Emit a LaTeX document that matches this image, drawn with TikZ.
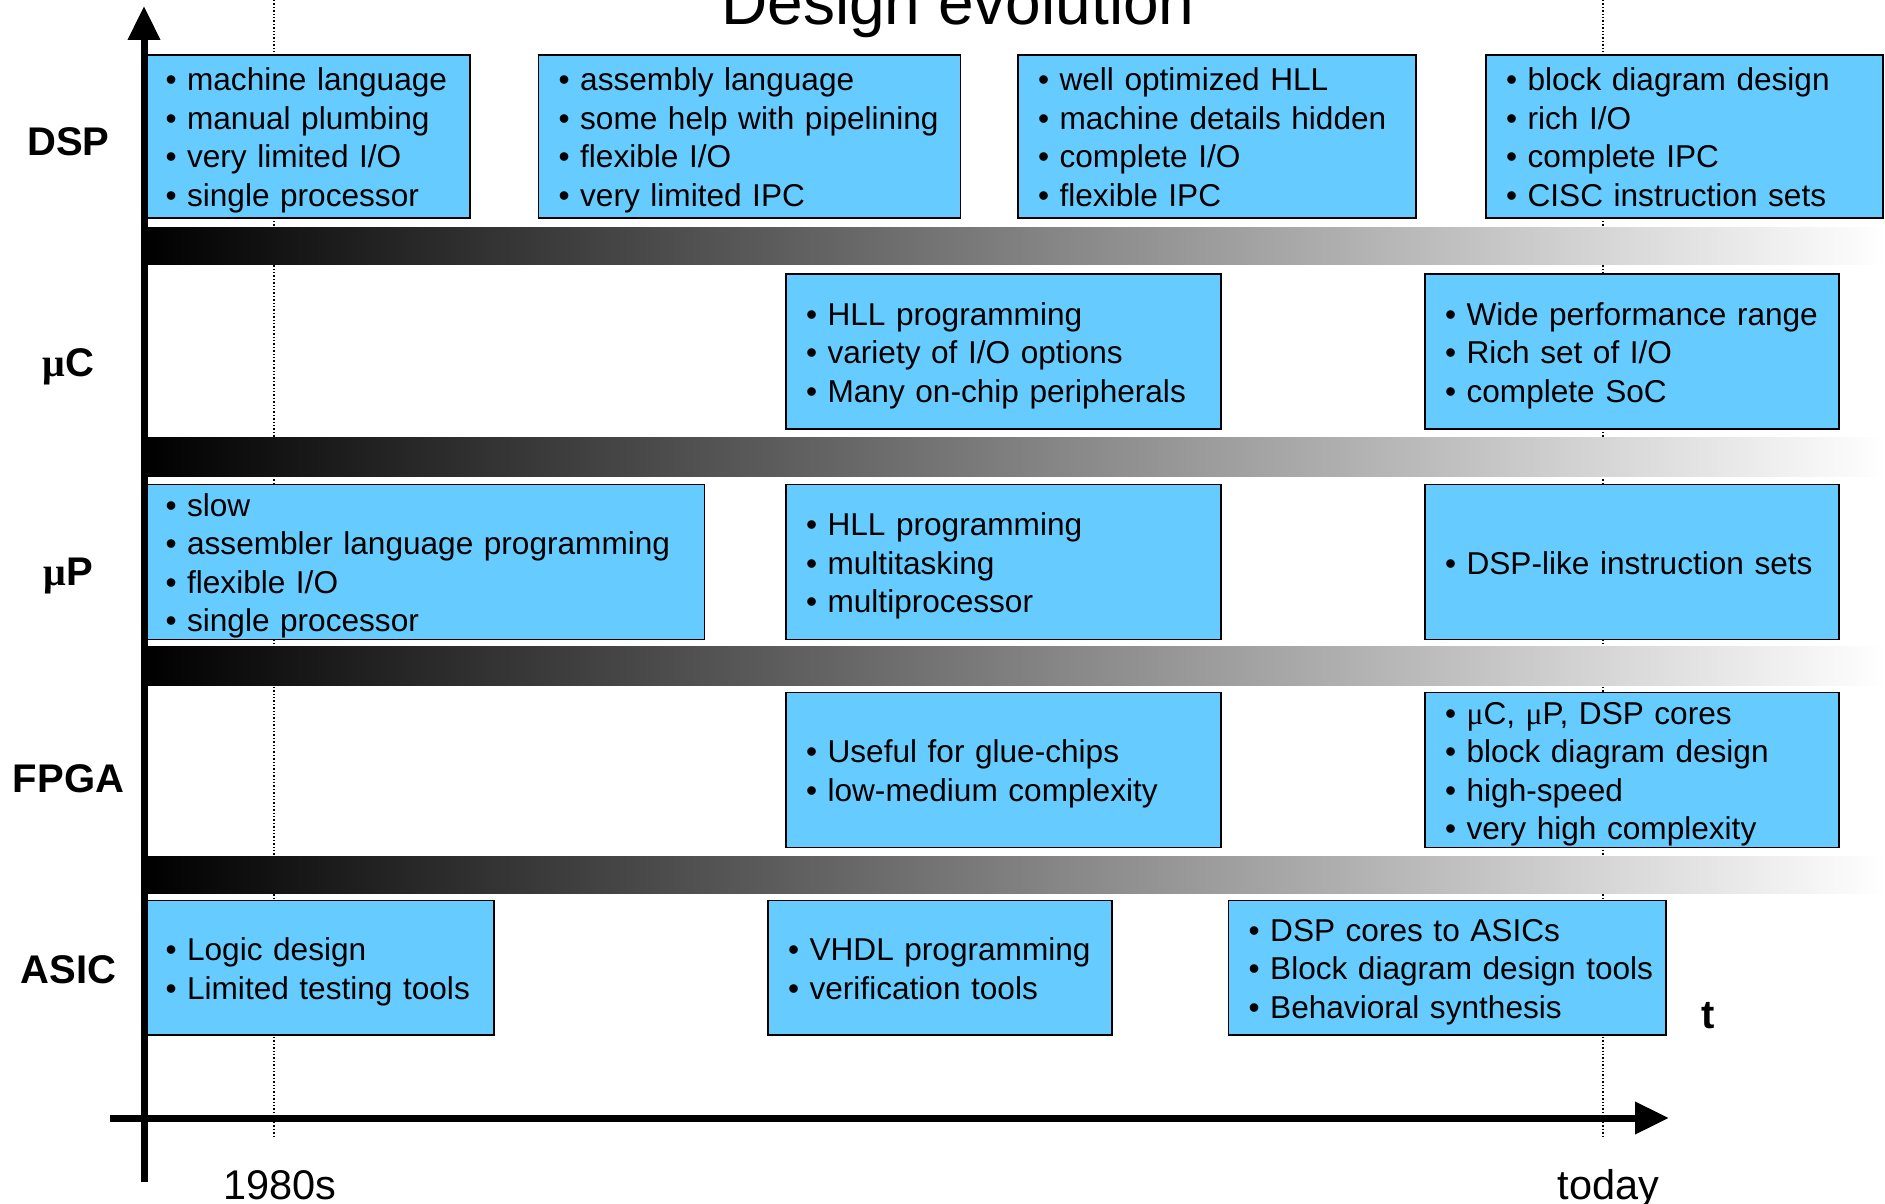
\documentclass[tikz,border=0pt]{standalone}
\usepackage{fontspec}
\setmainfont{Liberation Sans}
\newfontfamily\symbolFont{Liberation Serif}
\usetikzlibrary{arrows.meta}
\definecolor{boxblue}{RGB}{102,204,255}
\newcommand\microSym{{\symbolFont μ}}
% every line gets the same height and depth
\newcommand\bulletItem[1]{\mbox{\rule[-7pt]{0pt}{38pt}•\ #1}}

\begin{document}
\begin{tikzpicture}[x=1pt,y=-1pt]
    \tikzset{
      feat/.style={
        draw,
        line width=1.5pt,
        fill=boxblue,
        align=left,
        inner xsep=20pt,
        inner ysep=0pt,
        font=\fontsize{31.6}{38.5}\selectfont,
      },
      rowlbl/.style={
        anchor=base,
        font=\fontsize{40}{48}\selectfont\bfseries,
      },
      era/.style={
        anchor=base,
        font=\fontsize{41.5}{50}\selectfont,
      },
      axis/.style={line width=7pt, -{Triangle[length=34pt,width=31pt]}},
      epoch/.style={line width=1.4pt, dash pattern=on 1.4pt off 2pt},
      fade/.style={left color=black, right color=white},
    }
    \useasboundingbox (0,0) rectangle (1885,1204);

    \node[anchor=base, font=\fontsize{64}{70}\selectfont] (title) at (958,25) {Design evolution};

    % time marks
    \coordinate (eraA top) at (274,0);
    \coordinate (eraA bot) at (274,1136);
    \coordinate (eraB top) at (1603,0);
    \coordinate (eraB bot) at (1603,1136);
    \draw[epoch] (eraA top) -- (eraA bot);
    \draw[epoch] (eraB top) -- (eraB bot);

    % separators between the rows
    \shade[fade] (144,227)   rectangle (1885,264.5);
    \shade[fade] (144,437.6) rectangle (1885,476);
    \shade[fade] (144,646.8) rectangle (1885,685);
    \shade[fade] (144,856)   rectangle (1885,893);

    % DSP
    \node[feat, minimum width=324.5pt, minimum height=163pt, text width=284.5pt] (dspA) at (307.75,136.5)
        {\bulletItem{machine language}\\ \bulletItem{manual plumbing}\\ \bulletItem{very limited I/O}\\ \bulletItem{single processor}};
    \node[feat, minimum width=422pt, minimum height=163pt, text width=382pt] (dspB) at (749.6,136.5)
        {\bulletItem{assembly language}\\ \bulletItem{some help with pipelining}\\ \bulletItem{flexible I/O}\\ \bulletItem{very limited IPC}};
    \node[feat, minimum width=398pt, minimum height=163pt, text width=358pt] (dspC) at (1217,136.5)
        {\bulletItem{well optimized HLL}\\ \bulletItem{machine details hidden}\\ \bulletItem{complete I/O}\\ \bulletItem{flexible IPC}};
    \node[feat, minimum width=397pt, minimum height=163pt, text width=357pt] (dspD) at (1684.5,136.5)
        {\bulletItem{block diagram design}\\ \bulletItem{rich I/O}\\ \bulletItem{complete IPC}\\ \bulletItem{CISC instruction sets}};

    % microcontroller
    \node[feat, minimum width=435pt, minimum height=155pt, text width=395pt] (ucA) at (1003.5,351.5)
        {\bulletItem{HLL programming}\\ \bulletItem{variety of I/O options}\\ \bulletItem{Many on-chip peripherals}};
    \node[feat, minimum width=414pt, minimum height=155pt, text width=374pt] (ucB) at (1632,351.5)
        {\bulletItem{Wide performance range}\\ \bulletItem{Rich set of I/O}\\ \bulletItem{complete SoC}};

    % microprocessor
    \node[feat, minimum width=559pt, minimum height=155pt, text width=519pt] (upA) at (425,562)
        {\bulletItem{slow}\\ \bulletItem{assembler language programming}\\ \bulletItem{flexible I/O}\\ \bulletItem{single processor}};
    \node[feat, minimum width=435pt, minimum height=155pt, text width=395pt] (upB) at (1003.5,562)
        {\bulletItem{HLL programming}\\ \bulletItem{multitasking}\\ \bulletItem{multiprocessor}};
    \node[feat, minimum width=414pt, minimum height=155pt, text width=374pt] (upC) at (1632,562)
        {\bulletItem{DSP-like instruction sets}};

    % FPGA
    \node[feat, minimum width=435pt, minimum height=155pt, text width=395pt] (fpA) at (1003.5,770)
        {\bulletItem{Useful for glue-chips}\\ \bulletItem{low-medium complexity}};
    \node[feat, minimum width=414pt, minimum height=155pt, text width=374pt] (fpB) at (1632,770)
        {\bulletItem{\microSym C, \microSym P, DSP cores}\\ \bulletItem{block diagram design}\\ \bulletItem{high-speed}\\ \bulletItem{very high complexity}};

    % ASIC
    \node[feat, minimum width=348.5pt, minimum height=134.5pt, text width=308.5pt] (asA) at (319.75,967.75)
        {\bulletItem{Logic design}\\ \bulletItem{Limited testing tools}};
    \node[feat, minimum width=344pt, minimum height=134.5pt, text width=304pt] (asB) at (940,967.75)
        {\bulletItem{VHDL programming}\\ \bulletItem{verification tools}};
    \node[feat, minimum width=437.4pt, minimum height=134.5pt, text width=397.4pt] (asC) at (1447.3,967.75)
        {\bulletItem{DSP cores to ASICs}\\ \bulletItem{Block diagram design tools}\\ \bulletItem{Behavioral synthesis}};

    % axes
    \coordinate (ybot) at (144,1182);
    \coordinate (ytop) at (144,6);
    \coordinate (xleft) at (110,1118);
    \coordinate (xright) at (1669,1118);
    \draw[axis] (ybot) -- (ytop);
    \draw[axis] (xleft) -- (xright);

    \node[rowlbl] (lblDSP)  at (68.5,156) {DSP};
    \node[rowlbl] (lblUC)   at (68.5,376) {\microSym C};
    \node[rowlbl] (lblUP)   at (68.5,585) {\microSym P};
    \node[rowlbl] (lblFPGA) at (68.5,792) {FPGA};
    \node[rowlbl] (lblASIC) at (68.5,983) {ASIC};

    \node[era] (early) at (280,1199) {1980s};
    \node[era] (now) at (1608.5,1199) {today};
    \node[rowlbl] (time) at (1708,1028) {t};
\end{tikzpicture}
\end{document}
